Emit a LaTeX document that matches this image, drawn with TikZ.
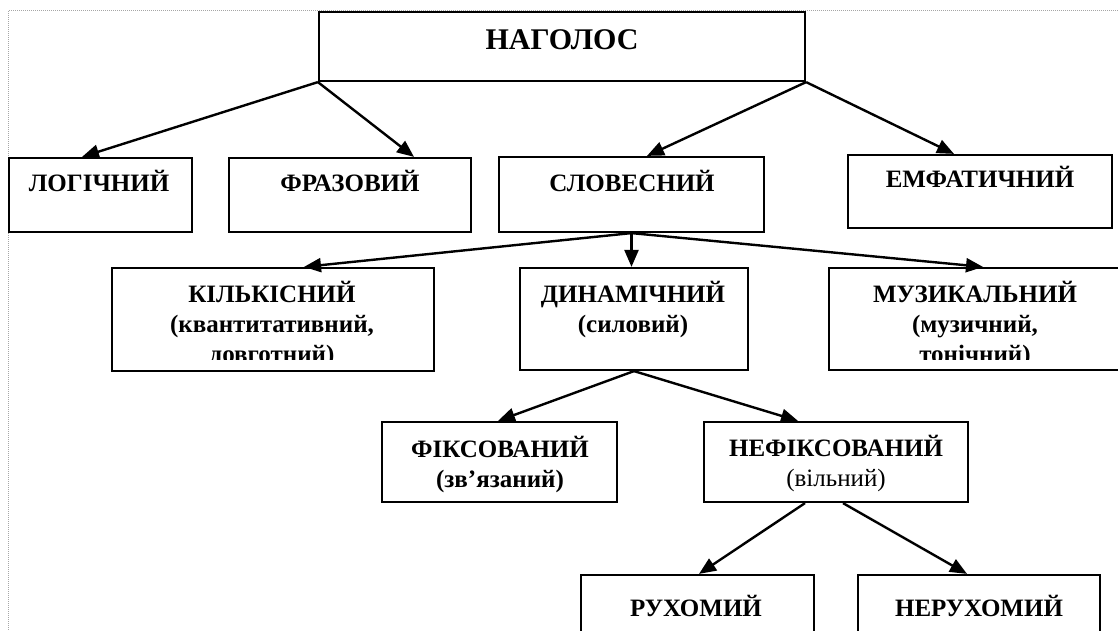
\documentclass[tikz,border=0pt]{standalone}
\usepackage{fontspec}
\setmainfont{Liberation Serif}
\usetikzlibrary{arrows.meta,calc}
\begin{document}
\begin{tikzpicture}[x=1pt,y=-1pt,
  box/.style={draw, line width=2.2pt, rectangle, inner sep=0pt},
  conn/.style={line width=2.4pt, -{Triangle[length=17pt,width=14pt]}},
  lbl/.style={inner sep=0pt, align=center, font=\bfseries\fontsize{25}{30}\selectfont},
  frame/.style={gray!70, densely dotted, line width=1pt}
]
\clip (0,0) rectangle (1118,631);
% dotted frame
\coordinate (fr1) at (1118,11);
\coordinate (fr2) at (8,11);
\coordinate (fr3) at (8,631);
\draw[frame] (fr1) -- (fr2) -- (fr3);

% boxes
\node[box, minimum width=486pt, minimum height=69pt] (nag) at (562,46.5) {};
\node[box, minimum width=183pt, minimum height=74pt] (log) at (100.5,195) {};
\node[box, minimum width=242pt, minimum height=74pt] (fraz) at (350,195) {};
\node[box, minimum width=265pt, minimum height=75pt] (slov) at (631.5,194.5) {};
\node[box, minimum width=264pt, minimum height=73pt] (emf) at (980,191.5) {};
\node[box, minimum width=322pt, minimum height=103pt] (kilk) at (273,319.5) {};
\node[box, minimum width=228pt, minimum height=102pt] (dyn) at (634,319) {};
\node[box, minimum width=292pt, minimum height=102pt] (muz) at (975,319) {};
\node[box, minimum width=235pt, minimum height=80pt] (fiks) at (499.5,462) {};
\node[box, minimum width=264pt, minimum height=80pt] (nef) at (836,462) {};
\node[box, minimum width=233pt, minimum height=90pt] (rux) at (697.5,620) {};
\node[box, minimum width=242pt, minimum height=90pt] (nerux) at (979,620) {};

% texts (base anchor = baseline of the last line)
\node[lbl, anchor=base, font=\bfseries\fontsize{30}{36}\selectfont] (nagT) at (562,50) {НАГОЛОС};
\node[lbl, anchor=base] (logT) at (99,192) {ЛОГІЧНИЙ};
\node[lbl, anchor=base] (frazT) at (350,192) {ФРАЗОВИЙ};
\node[lbl, anchor=base] (slovT) at (632,192) {СЛОВЕСНИЙ};
\node[lbl, anchor=base] (emfT) at (980,188) {ЕМФАТИЧНИЙ};
\begin{scope}
  \clip (0,0) rectangle (1118,359);
  \node[lbl, anchor=base] (kilkT) at (272,362) {КІЛЬКІСНИЙ\\(квантитативний,\\довготний)};
  \node[lbl, anchor=base] (muzT) at (975,362) {МУЗИКАЛЬНИЙ\\(музичний,\\тонічний)};
\end{scope}
\node[lbl, anchor=base] (dynT) at (633,332) {ДИНАМІЧНИЙ\\(силовий)};
\node[lbl, anchor=base] (fiksT) at (500,487) {ФІКСОВАНИЙ\\(зв’язаний)};
\node[lbl, anchor=base] (nefT) at (836,486) {НЕФІКСОВАНИЙ\\{\mdseries (вільний)}};
\node[lbl, anchor=base] (ruxT) at (696,616) {РУХОМИЙ};
\node[lbl, anchor=base] (neruxT) at (979,616) {НЕРУХОМИЙ};

% connectors
\draw[conn] (nag.south west) -- ([xshift=-18.5pt]log.north);
\draw[conn] (nag.south west) -- ([xshift=64pt]fraz.north);
\draw[conn] (nag.south east) -- ([xshift=15.5pt]slov.north);
\draw[conn] (nag.south east) -- ([xshift=-26pt]emf.north);
\draw[conn] (slov.south) -- ([xshift=31pt]kilk.north);
\draw[conn] (slov.south) -- (slov.south |- dyn.north);
\draw[conn] (slov.south) -- ([xshift=8pt]muz.north);
\draw[conn] (dyn.south) -- ([xshift=-1.5pt]fiks.north);
\draw[conn] (dyn.south) -- ([xshift=-38pt]nef.north);
\draw[conn] ([xshift=-31pt]nef.south) -- ([xshift=1.5pt]rux.north);
\draw[conn] ([xshift=7pt]nef.south) -- ([xshift=-12pt]nerux.north);
\end{tikzpicture}
\end{document}
